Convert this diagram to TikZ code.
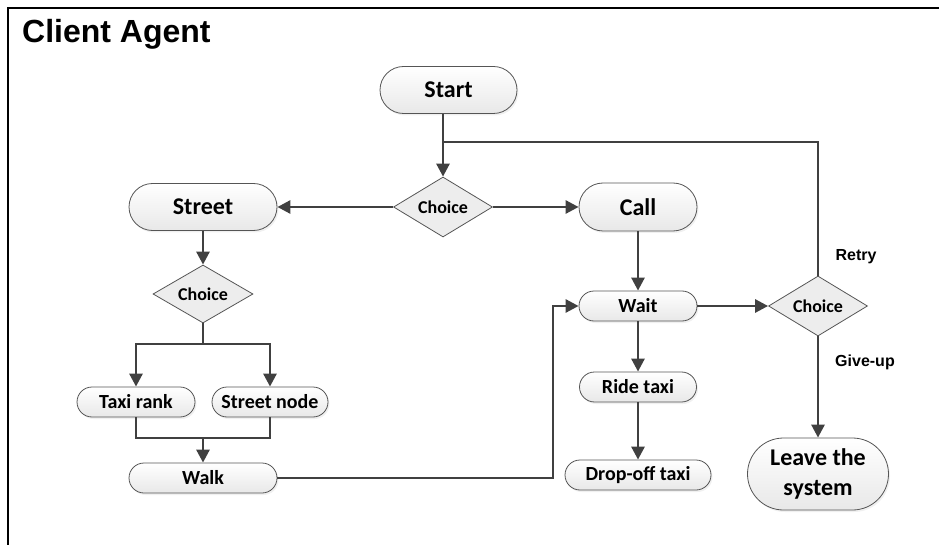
\documentclass[tikz,border=0pt]{standalone}
\usepackage{fontspec}
\setmainfont{Carlito}
\newfontfamily\arialfont{Liberation Sans}
\usetikzlibrary{shapes.misc,shapes.geometric,arrows.meta,shadows}
\definecolor{linegray}{HTML}{404040}
\definecolor{edgegray}{HTML}{555555}
\tikzset{
  pill/.style={rounded rectangle, draw=edgegray, line width=0.8pt,
    top color=white, bottom color=black!9, inner sep=0pt,
    drop shadow={opacity=0.12, shadow xshift=1.5pt, shadow yshift=-2pt},
    font=\bfseries, text=black},
  bigpill/.style={pill, font=\fontsize{24}{30}\selectfont\bfseries},
  smallpill/.style={pill, font=\fontsize{20}{24}\selectfont\bfseries},
  choice/.style={diamond, draw=edgegray, line width=0.8pt, fill=black!7,
    inner sep=0pt, aspect=1.65, font=\fontsize{18}{22}\selectfont\bfseries},
  flow/.style={draw=linegray, line width=2.8pt, -{Triangle[length=13pt,width=13pt]}},
  link/.style={draw=linegray, line width=2.8pt},
  tag/.style={font=\arialfont\fontsize{16}{19}\selectfont\bfseries}
}
\begin{document}
\begin{tikzpicture}[x=1pt,y=-1pt]
\useasboundingbox (0,0) rectangle (939,545);
% frame edges
\draw[black, line width=2pt] (8,545) -- (8,8) -- (939,8);
\node[anchor=base west, font=\arialfont\fontsize{32}{38}\selectfont\bfseries, inner sep=0pt] (title) at (22,43) {Client Agent};

% nodes
\node[bigpill, minimum width=137pt, minimum height=47pt] (start) at (448.5,90) {Start};
\node[choice, minimum width=99pt, minimum height=60pt] (c1) at (443,207) {Choice};
\node[bigpill, minimum width=148pt, minimum height=47pt] (street) at (203,207) {Street};
\node[bigpill, minimum width=118pt, minimum height=48pt] (call) at (638,207) {Call};
\node[choice, minimum width=100pt, minimum height=58pt] (c2) at (203,294) {Choice};
\node[smallpill, minimum width=118pt, minimum height=30pt] (rank) at (136,402) {Taxi rank};
\node[smallpill, minimum width=116pt, minimum height=30pt] (snode) at (270,402) {Street node};
\node[smallpill, minimum width=148pt, minimum height=30pt] (walk) at (203,478) {Walk};
\node[smallpill, minimum width=118pt, minimum height=30pt] (wait) at (638,306) {Wait};
\node[smallpill, minimum width=117pt, minimum height=30pt] (ride) at (638,387) {Ride taxi};
\node[smallpill, minimum width=146pt, minimum height=30pt] (drop) at (638,475) {Drop-off taxi};
\node[choice, minimum width=99pt, minimum height=60pt] (c3) at (818,306) {Choice};
\node[bigpill, minimum width=141pt, minimum height=72pt, align=center] (leave) at (818,474) {Leave the\\system};

% labels
\node[tag] (retry) at (856,257) {Retry};
\node[tag] (giveup) at (865,362) {Give-up};

% junction points
\coordinate (loop) at (443,142);
\coordinate (split) at (203,344);
\coordinate (merge) at (203,438);
\coordinate (bend) at (553,478);

% connectors
\draw[flow] (c1 |- start.south) -- (c1.north);
\draw[link] (c3.north) |- (loop);
\draw[flow] (c1.west) -- (street.east);
\draw[flow] (c1.east) -- (call.west);
\draw[flow] (street.south) -- (c2.north);
\draw[link] (c2.south) -- (split);
\draw[flow] (split) -| (rank.north);
\draw[flow] (split) -| (snode.north);
\draw[link] (rank.south) |- (merge);
\draw[link] (snode.south) |- (merge);
\draw[flow] (merge) -- (walk.north);
\draw[flow] (walk.east) -- (bend) |- (wait.west);
\draw[flow] (call.south) -- (wait.north);
\draw[flow] (wait.south) -- (ride.north);
\draw[flow] (ride.south) -- (drop.north);
\draw[flow] (wait.east) -- (c3.west);
\draw[flow] (c3.south) -- (leave.north);
\end{tikzpicture}
\end{document}
